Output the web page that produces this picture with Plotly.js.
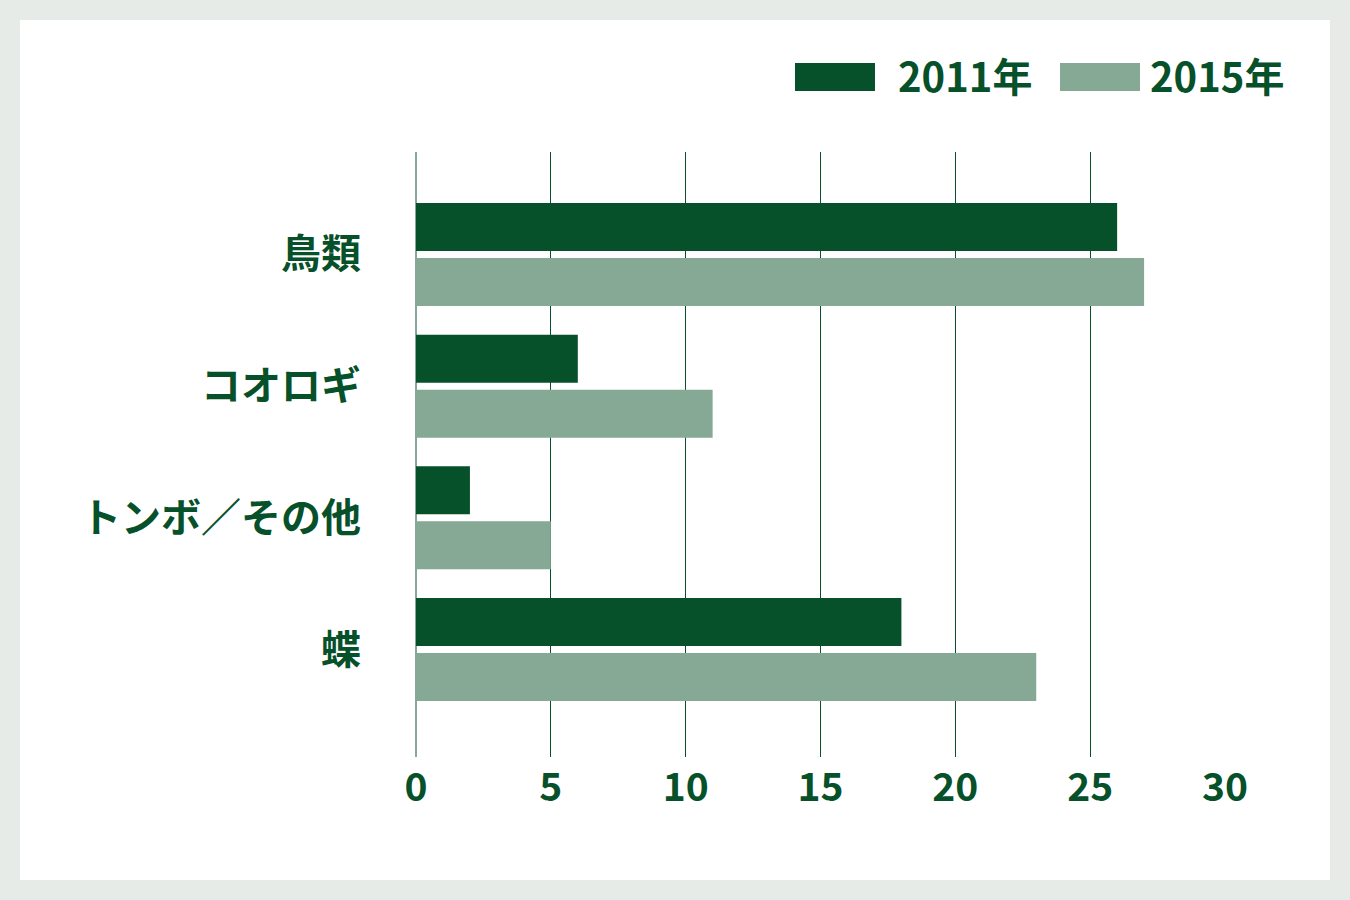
<!DOCTYPE html>
<html>
<head>
<meta charset="utf-8">
<script src="https://cdn.plot.ly/plotly-3.0.1.min.js"></script>
<style>
  html, body { margin:0; padding:0; background:#e6ebe8; width:1350px; height:900px; overflow:hidden; }
  #chart { position:absolute; left:20px; top:20px; width:1310px; height:860px; background:#ffffff; }
</style>
</head>
<body>
<div id="chart"></div>
<script>
const categories = ['鳥類', 'コオロギ', 'トンボ／その他', '蝶'];
const seriesNames = ['2011年', '2015年'];
const values2011 = [26, 6, 2, 18];
const values2015 = [27, 11, 5, 23];
const xTicks = [0, 5, 10, 15, 20, 25, 30];

const DARK = '#06502a';
const LIGHT = '#85a994';
const FONT = '"Noto Sans CJK JP", "Noto Sans", sans-serif';

const W = 1310, H = 860;
const M = { l: 396, r: 105, t: 132, b: 123 };
const pw = W - M.l - M.r, ph = H - M.t - M.b;
const px2x = p => (p - M.l) / pw;
const px2y = p => 1 - (p - M.t) / ph;

const traces = [
  { type: 'bar', orientation: 'h', name: seriesNames[0], y: categories, x: values2011,
    marker: { color: DARK }, hoverinfo: 'x+y', showlegend: false },
  { type: 'bar', orientation: 'h', name: seriesNames[1], y: categories, x: values2015,
    marker: { color: LIGHT }, hoverinfo: 'x+y', showlegend: false }
];

// custom legend (large swatches)
const legendItems = [
  { name: seriesNames[0], color: DARK, sx0: 775, sx1: 855, tx: 876 },
  { name: seriesNames[1], color: LIGHT, sx0: 1040, sx1: 1120, tx: 1128 }
];
const shapes = legendItems.map(it => ({
  type: 'rect', xref: 'paper', yref: 'paper',
  x0: px2x(it.sx0), x1: px2x(it.sx1), y0: px2y(71), y1: px2y(43),
  fillcolor: it.color, line: { width: 0 }
}));
const annotations = legendItems.map(it => ({
  xref: 'paper', yref: 'paper', x: px2x(it.tx), y: px2y(55),
  xanchor: 'left', yanchor: 'middle', showarrow: false,
  text: it.name, font: { family: FONT, size: 40, color: DARK, weight: 700 }
}));

const layout = {
  width: W, height: H,
  margin: M,
  paper_bgcolor: '#ffffff', plot_bgcolor: '#ffffff',
  barmode: 'group', bargap: 0.165, bargroupgap: 0.127,
  font: { family: FONT, color: DARK },
  showlegend: false,
  xaxis: {
    range: [0, 30], tickvals: xTicks, ticktext: xTicks.map(String),
    showgrid: true, gridcolor: DARK, gridwidth: 1,
    zeroline: true, zerolinecolor: LIGHT, zerolinewidth: 2,
    showline: false, ticks: '', ticklabelstandoff: 4,
    tickfont: { family: FONT, size: 39, color: DARK, weight: 700 },
    fixedrange: true
  },
  yaxis: {
    type: 'category', range: [3.816, -0.778],
    showgrid: false, zeroline: false, showline: false, ticks: '',
    ticklabelstandoff: 54,
    tickfont: { family: FONT, size: 40, color: DARK, weight: 700 },
    fixedrange: true
  },
  shapes: shapes,
  annotations: annotations
};

Plotly.newPlot('chart', traces, layout, { displayModeBar: false, staticPlot: true });
</script>
</body>
</html>
